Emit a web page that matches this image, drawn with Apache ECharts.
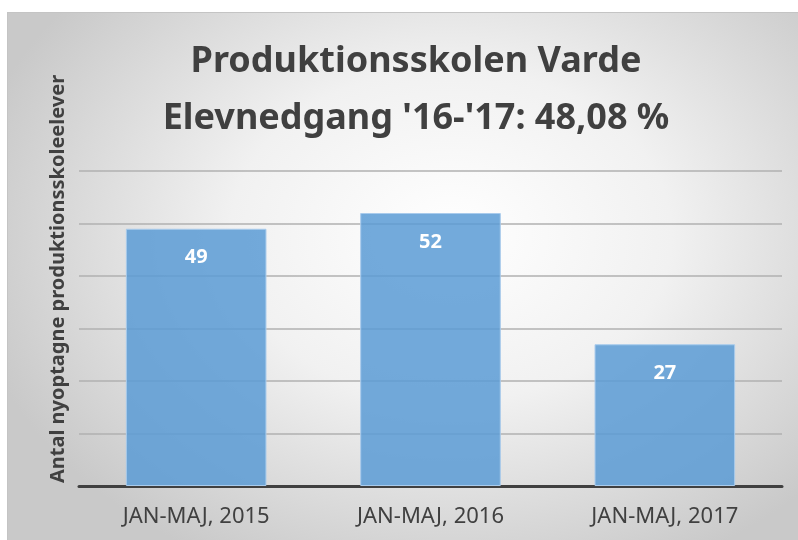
<!DOCTYPE html>
<html>
<head>
<meta charset="utf-8">
<script src="https://cdn.jsdelivr.net/npm/echarts@6/dist/echarts.min.js"></script>
<style>
  html, body { margin: 0; padding: 0; background: #ffffff; }
  .frame {
    position: absolute; left: 7px; top: 12px; width: 791px; height: 528px;
    border-top: 1px solid #c4c4c4; border-left: 1px solid #c4c4c4;
    background: radial-gradient(ellipse 62% 70% at 56% 42%, #ffffff 0%, #f1f1f1 45%, #c9c9c9 100%);
  }
  #chart { width: 791px; height: 528px; }
</style>
</head>
<body>
<div class="frame"><div id="chart"></div></div>
<script>
// data
var categories = ['JAN-MAJ, 2015', 'JAN-MAJ, 2016', 'JAN-MAJ, 2017'];
var values = [49, 52, 27];
var titleText = 'Produktionsskolen Varde\nElevnedgang \'16-\'17: 48,08 %';
var yName = 'Antal nyoptagne produktionsskoleelever';

var sans = '"Noto Sans", sans-serif';

var chart = echarts.init(document.getElementById('chart'));
chart.setOption({
  backgroundColor: 'transparent',
  animation: false,
  title: {
    text: titleText,
    left: 403,
    top: 15,
    textAlign: 'center',
    textStyle: {
      fontFamily: sans,
      fontWeight: 'bold',
      fontSize: 36,
      lineHeight: 57,
      color: '#404040'
    }
  },
  graphic: [{
    type: 'text',
    x: 50,
    y: 266,
    rotation: Math.PI / 2,
    style: {
      text: yName,
      fontFamily: sans,
      fontWeight: 'bold',
      fontSize: 20,
      fill: '#404040',
      align: 'center',
      verticalAlign: 'middle'
    }
  }],
  grid: { left: 71, right: 17, top: 158, bottom: 55 },
  xAxis: {
    type: 'category',
    data: categories,
    axisLine: { lineStyle: { color: '#404040', width: 3 } },
    axisTick: { show: false },
    axisLabel: {
      margin: 20,
      fontFamily: sans,
      fontSize: 22,
      color: '#404040'
    }
  },
  yAxis: {
    type: 'value',
    min: 0,
    max: 60,
    interval: 10,
    axisLabel: { show: false },
    axisLine: { show: false },
    axisTick: { show: false },
    splitLine: { lineStyle: { color: '#b0b0b0', width: 1.5 } }
  },
  series: [{
    type: 'bar',
    data: values,
    barWidth: '60%',
    itemStyle: {
      color: 'rgba(91,155,213,0.85)',
      borderColor: '#a9cbec',
      borderWidth: 1
    },
    label: {
      show: true,
      position: 'insideTop',
      distance: 19,
      color: '#ffffff',
      fontFamily: sans,
      fontWeight: 'bold',
      fontSize: 20
    }
  }]
});
</script>
</body>
</html>
